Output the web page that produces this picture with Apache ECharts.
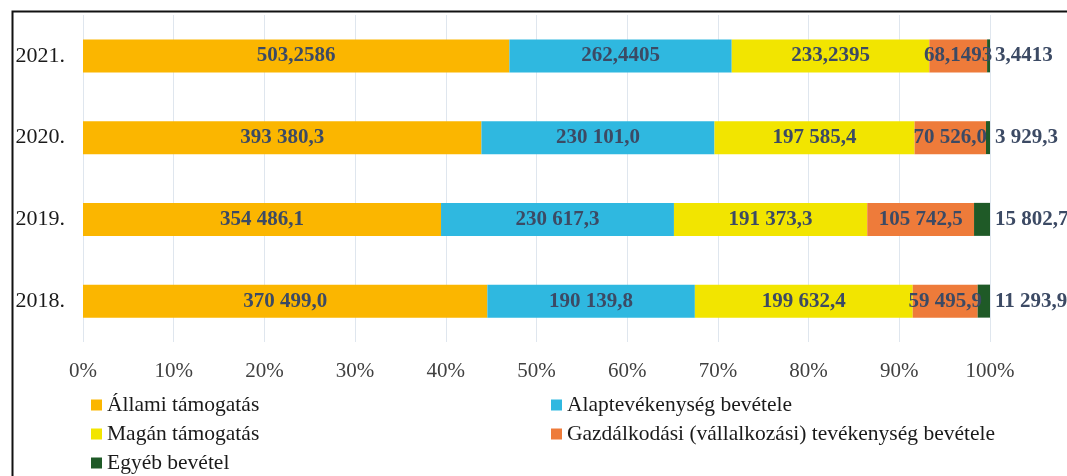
<!DOCTYPE html>
<html>
<head>
<meta charset="utf-8">
<script src="https://cdn.jsdelivr.net/npm/echarts@6/dist/echarts.min.js"></script>
<style>
  html, body { margin: 0; padding: 0; background: #fff; }
  #chart { width: 1067px; height: 476px; }
</style>
</head>
<body>
<div id="chart"></div>
<script>
// years top to bottom; 2021 is in billions, the rest in millions
var years = ['2021.', '2020.', '2019.', '2018.'];
var decimals = [4, 1, 1, 1];

var allami = [503.2586, 393380.3, 354486.1, 370499.0];
var alap = [262.4405, 230101.0, 230617.3, 190139.8];
var magan = [233.2395, 197585.4, 191373.3, 199632.4];
var gazd = [68.1493, 70526.0, 105742.5, 59495.9];
var egyeb = [3.4413, 3929.3, 15802.7, 11293.9];

var seriesNames = [
    'Állami támogatás',
    'Alaptevékenység bevétele',
    'Magán támogatás',
    'Gazdálkodási (vállalkozási) tevékenység bevétele',
    'Egyéb bevétel'
];
var seriesValues = [allami, alap, magan, gazd, egyeb];
var colors = ['#FBB600', '#2FB8E0', '#F2E500', '#EE7B3A', '#1F5A27'];

var SERIF = "'Liberation Serif', 'Times New Roman', serif";
var LABEL_COLOR = '#3c4a64';

var totals = years.map(function (y, i) {
    return seriesValues.reduce(function (s, arr) { return s + arr[i]; }, 0);
});

// 393380.3 -> "393 380,3"
var fmt = function (v, d) {
    var parts = v.toFixed(d).split('.');
    var intPart = parts[0].replace(/\B(?=(\d{3})+(?!\d))/g, ' ');
    return parts.length > 1 ? intPart + ',' + parts[1] : intPart;
};

var series = seriesNames.map(function (name, k) {
    var last = k === seriesNames.length - 1;
    return {
        name: name,
        type: 'bar',
        stack: 'total',
        barWidth: 33,
        itemStyle: { color: colors[k] },
        label: {
            show: true,
            position: last ? 'right' : 'inside',
            distance: 5,
            fontFamily: SERIF,
            fontSize: 21,
            fontWeight: 'bold',
            color: LABEL_COLOR,
            formatter: function (p) {
                return fmt(seriesValues[k][p.dataIndex], decimals[p.dataIndex]);
            }
        },
        data: seriesValues[k].map(function (v, i) { return v / totals[i] * 100; })
    };
});

// one legend per row, two columns like the original
var legendPos = [[86, 389], [546, 389], [86, 418], [546, 418], [86, 447]];
var legends = seriesNames.map(function (name, k) {
    return {
        left: legendPos[k][0],
        top: legendPos[k][1],
        icon: 'rect',
        itemWidth: 11,
        itemHeight: 11,
        textStyle: { fontFamily: SERIF, fontSize: 21.5, color: '#1a1a1a' },
        data: [name]
    };
});

var myChart = echarts.init(document.getElementById('chart'));
myChart.setOption({
    animation: false,
    backgroundColor: '#fff',
    graphic: [{
        type: 'rect',
        left: 10,
        top: 9,
        shape: { width: 1100, height: 520 },
        style: { fill: 'none', stroke: '#111', lineWidth: 2 }
    }],
    grid: { left: 83, right: 77, top: 15, bottom: 134 },
    xAxis: {
        type: 'value',
        min: 0,
        max: 100,
        interval: 10,
        axisLine: { show: false },
        axisTick: { show: false },
        splitLine: { lineStyle: { color: '#dfe6ee', width: 1 } },
        axisLabel: {
            formatter: '{value}%',
            margin: 19,
            fontFamily: SERIF,
            fontSize: 21,
            color: '#404040'
        }
    },
    yAxis: {
        type: 'category',
        inverse: true,
        data: years,
        axisLine: { show: false },
        axisTick: { show: false },
        axisLabel: {
            margin: 18,
            fontFamily: SERIF,
            fontSize: 22,
            color: '#1a1a1a'
        }
    },
    legend: legends,
    series: series
});
</script>
</body>
</html>
